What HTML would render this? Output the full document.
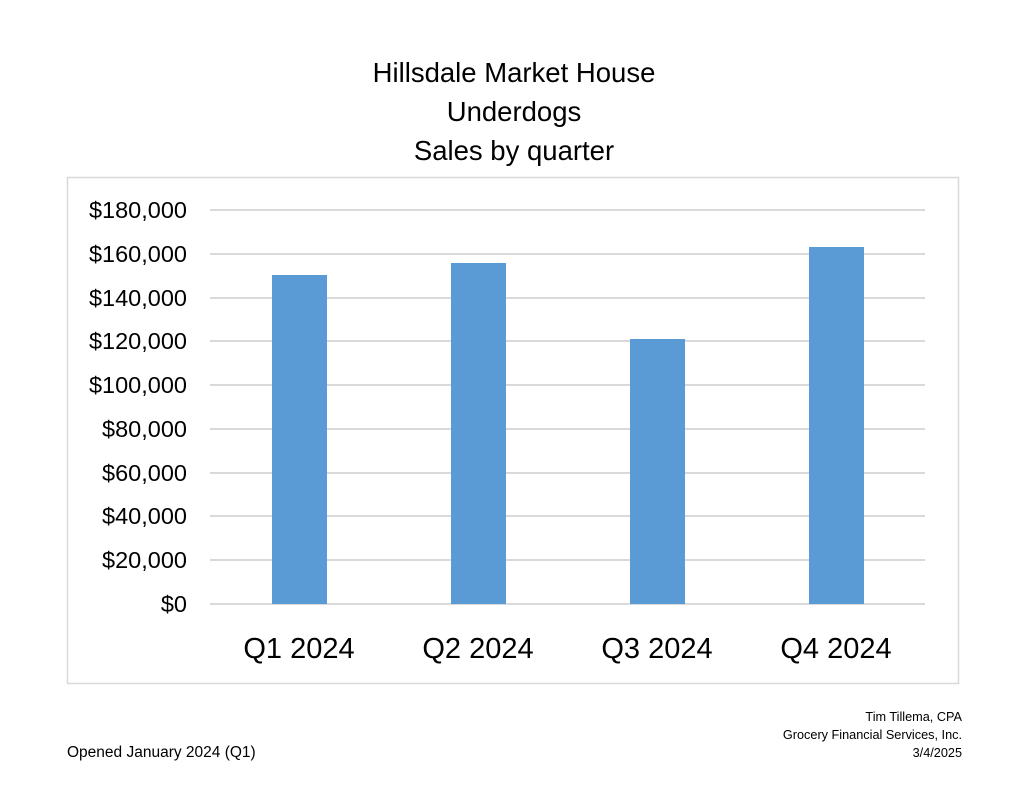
<!DOCTYPE html>
<html><head><style>
body{margin:0;background:#fff;}
svg text{font-family:"Liberation Sans",sans-serif;fill:#000;}
</style></head><body>
<svg width="1024" height="791" viewBox="0 0 1024 791" xmlns="http://www.w3.org/2000/svg">
<rect width="1024" height="791" fill="#fff"/>
<text x="514" y="82" font-size="27.5" text-anchor="middle">Hillsdale Market House</text>
<text x="514" y="121" font-size="27.5" text-anchor="middle">Underdogs</text>
<text x="514" y="160" font-size="27.5" text-anchor="middle">Sales by quarter</text>
<rect x="67.5" y="177.5" width="891" height="506" fill="none" stroke="#d9d9d9" stroke-width="1.5"/>
<g stroke="#d9d9d9" stroke-width="2">
<line x1="210" x2="925" y1="210" y2="210"/>
<line x1="210" x2="925" y1="254" y2="254"/>
<line x1="210" x2="925" y1="298" y2="298"/>
<line x1="210" x2="925" y1="341" y2="341"/>
<line x1="210" x2="925" y1="385" y2="385"/>
<line x1="210" x2="925" y1="429" y2="429"/>
<line x1="210" x2="925" y1="473" y2="473"/>
<line x1="210" x2="925" y1="516" y2="516"/>
<line x1="210" x2="925" y1="560" y2="560"/>
<line x1="210" x2="925" y1="604" y2="604"/>
</g>
<g fill="#5b9bd5">
<rect x="272" y="275" width="55" height="329"/>
<rect x="451" y="263" width="55" height="341"/>
<rect x="630" y="339" width="55" height="265"/>
<rect x="809" y="247" width="55" height="357"/>
</g>
<g font-size="23.5" text-anchor="end">
<text x="187" y="218">$180,000</text>
<text x="187" y="262">$160,000</text>
<text x="187" y="306">$140,000</text>
<text x="187" y="349">$120,000</text>
<text x="187" y="393">$100,000</text>
<text x="187" y="437">$80,000</text>
<text x="187" y="481">$60,000</text>
<text x="187" y="524">$40,000</text>
<text x="187" y="568">$20,000</text>
<text x="187" y="612">$0</text>
</g>
<g font-size="29" text-anchor="middle">
<text x="299" y="658">Q1 2024</text>
<text x="478" y="658">Q2 2024</text>
<text x="657" y="658">Q3 2024</text>
<text x="836" y="658">Q4 2024</text>
</g>
<text x="67" y="757" font-size="15.5">Opened January 2024 (Q1)</text>
<g font-size="12.7" text-anchor="end">
<text x="962" y="721">Tim Tillema, CPA</text>
<text x="962" y="739">Grocery Financial Services, Inc.</text>
<text x="962" y="757">3/4/2025</text>
</g>
</svg>
</body></html>
